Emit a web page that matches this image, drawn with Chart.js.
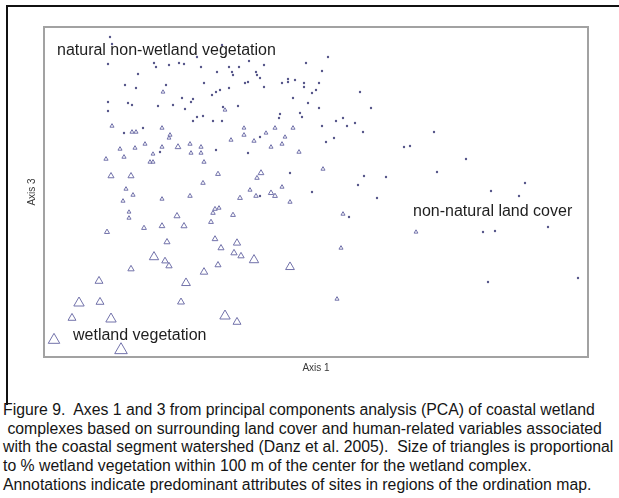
<!DOCTYPE html>
<html>
<head>
<meta charset="utf-8">
<script src="https://cdn.jsdelivr.net/npm/chart.js@4.4.1/dist/chart.umd.min.js"></script>
<style>
  html, body { margin: 0; padding: 0; background: #fff; overflow: hidden; }
  body { width: 619px; height: 498px; position: relative; }
  #frame { position: absolute; left: 6px; top: 5px; width: 620px; height: 398px;
           border-top: 2px solid #111; border-left: 2px solid #111; }
  #plot { position: absolute; left: 0; top: 0; }
  #caption { position: absolute; left: 3px; top: 401px; width: 660px;
             font: 15.8px "Liberation Sans", Arial, sans-serif; line-height: 18.7px;
             color: #151515; white-space: pre; }
</style>
</head>
<body>
<div id="frame"></div>
<canvas id="plot" width="619" height="380"></canvas>
<div id="caption">Figure 9.  Axes 1 and 3 from principal components analysis (PCA) of coastal wetland
 complexes based on surrounding land cover and human-related variables associated
with the coastal segment watershed (Danz et al. 2005).  Size of triangles is proportional
to % wetland vegetation within 100 m of the center for the wetland complex.
Annotations indicate predominant attributes of sites in regions of the ordination map.</div>
<script>
// ===== Ordination scores (arbitrary axis units) =====
// sites with no wetland vegetation nearby (plotted as dots)
const dotAxis1 = [66, 68, 153, 178, 64, 94, 110, 112, 125, 135, 140, 157, 173, 185, 188, 189, 195, 205, 212, 213,
  216, 220, 244, 81, 92, 122, 138, 147, 149, 160, 168, 172, 176, 185, 201, 204, 220, 238, 244, 251,
  249, 64, 64, 84, 88, 114, 129, 141, 179, 194, 149, 153, 159, 169, 178, 236, 235, 256, 284, 262,
  278, 260, 260, 275, 268, 272, 264, 275, 316, 327, 258, 278, 292, 299, 303, 311, 319, 282, 290, 390,
  360, 366, 422, 393, 320, 342, 314, 268, 333, 447, 475, 481, 305, 439, 451, 504, 444, 534, 80, 99,
  116, 172, 216, 204, 246, 216];
const dotAxis3 = [320, 313, 300, 312, 293, 283, 294, 290, 292, 294, 293, 290, 285, 290, 285, 282, 290, 296, 285, 282,
  279, 292, 278, 272, 269, 272, 259, 255, 258, 274, 262, 265, 267, 269, 274, 275, 270, 274, 275, 277,
  259, 255, 246, 254, 252, 251, 252, 248, 250, 251, 236, 240, 241, 236, 236, 243, 239, 244, 300, 294,
  286, 274, 270, 274, 264, 267, 254, 249, 265, 249, 240, 231, 236, 239, 231, 234, 225, 215, 219, 225,
  210, 211, 198, 185, 181, 180, 172, 165, 159, 166, 161, 174, 140, 125, 126, 130, 75, 79, 224, 229,
  205, 207, 220, 204, 184, 161];

// sites with wetland vegetation (triangles, size ~ % wetland vegetation within 100 m)
const triAxis1 = [119, 181, 68, 88, 92, 118, 126, 125, 76, 91, 101, 109, 118, 134, 146, 147, 157, 157, 187, 200,
  200, 210, 222, 231, 227, 238, 241, 249, 255, 62, 80, 106, 109, 160, 67, 87, 174, 159, 217, 213,
  82, 89, 79, 118, 146, 196, 206, 212, 227, 231, 238, 246, 85, 85, 133, 171, 175, 169, 189, 167,
  63, 100, 118, 140, 123, 171, 177, 193, 110, 121, 125, 190, 197, 210, 174, 246, 87, 160, 142, 55,
  35, 56, 137, 28, 67, 181, 193, 10, 77, 279, 299, 372, 297, 293];
const triAxis3 = [265, 247, 231, 225, 225, 229, 222, 219, 208, 209, 213, 203, 210, 210, 213, 204, 210, 204, 217, 222,
  229, 216, 224, 229, 210, 213, 220, 229, 205, 198, 200, 195, 195, 195, 181, 181, 183, 174, 184, 179,
  168, 162, 156, 158, 161, 159, 167, 161, 164, 161, 170, 155, 145, 139, 141, 148, 149, 144, 142, 135,
  125, 129, 131, 131, 115, 118, 109, 114, 100, 96, 91, 104, 101, 97, 92, 90, 88, 85, 74, 76,
  54, 55, 55, 39, 38, 41, 35, 17, 7, 188, 143, 125, 109, 58];
const triWetlandPct = [10, 10, 12, 12, 12, 12, 12, 10, 12, 12, 12, 10, 12, 25, 13, 12, 13, 12, 12, 13,
  10, 13, 10, 12, 12, 12, 10, 12, 13, 13, 13, 12, 12, 13, 28, 28, 18, 15, 25, 15,
  12, 13, 12, 12, 15, 18, 12, 15, 22, 18, 12, 13, 10, 12, 28, 15, 12, 15, 18, 18,
  20, 18, 25, 28, 28, 25, 28, 38, 55, 32, 30, 30, 30, 55, 28, 50, 30, 40, 50, 43,
  63, 43, 35, 43, 63, 63, 43, 72, 81, 12, 12, 10, 12, 12];

// ===== Region annotations =====
const noteText = ['natural non-wetland vegetation', 'non-natural land cover', 'wetland vegetation'];
const noteAxis1 = [13, 369, 29];
const noteAxis3 = [302, 141, 17];

const dotPoints = dotAxis1.map((x, i) => ({ x: x, y: dotAxis3[i] }));
const triPoints = triAxis1.map((x, i) => ({ x: x, y: triAxis3[i] }));

// gray box round the plotting area
const plotBox = {
    id: 'plotBox',
    beforeDatasetsDraw(chart) {
        const { ctx, chartArea: a } = chart;
        ctx.save();
        ctx.strokeStyle = '#a2a2a2';
        ctx.lineWidth = 2;
        ctx.strokeRect(a.left, a.top, a.right - a.left, a.bottom - a.top);
        ctx.restore();
    }
};

// text labels placed in axis units
const regionNotes = {
    id: 'regionNotes',
    afterDatasetsDraw(chart) {
        const { ctx, scales } = chart;
        ctx.save();
        ctx.font = '16px "Liberation Sans", Arial, sans-serif';
        ctx.fillStyle = '#1e1e1e';
        ctx.textBaseline = 'alphabetic';
        noteText.forEach((t, i) => {
            ctx.fillText(t, scales.x.getPixelForValue(noteAxis1[i]), scales.y.getPixelForValue(noteAxis3[i]));
        });
        ctx.restore();
    }
};

const ctx = document.getElementById('plot').getContext('2d');
new Chart(ctx, {
    type: 'scatter',
    data: {
        datasets: [{
            label: 'no wetland vegetation',
            data: dotPoints,
            pointStyle: 'circle',
            pointRadius: 1.2,
            pointBorderWidth: 0,
            backgroundColor: '#55558a',
            borderColor: '#55558a'
        }, {
            label: 'wetland vegetation',
            data: triPoints,
            pointStyle: 'triangle',
            pointRadius: triWetlandPct.map(p => 1.5 + p / 14),
            pointBorderWidth: 1,
            backgroundColor: 'rgba(255,255,255,0)',
            borderColor: '#7272aa'
        }]
    },
    options: {
        responsive: false,
        animation: false,
        clip: false,
        layout: { padding: { left: 0, top: 27, right: 31, bottom: 0 } },
        plugins: {
            legend: { display: false },
            tooltip: { enabled: false }
        },
        scales: {
            x: {
                type: 'linear',
                min: 0,
                max: 544,
                ticks: { display: false },
                grid: { display: false },
                border: { display: false },
                title: {
                    display: true,
                    text: 'Axis 1',
                    color: '#3a3a3a',
                    font: { size: 10, family: 'Liberation Sans' },
                    padding: { top: 0, bottom: 6 }
                },
                afterFit: scale => { scale.height = 23; }
            },
            y: {
                type: 'linear',
                min: 0,
                max: 330,
                ticks: { display: false },
                grid: { display: false },
                border: { display: false },
                title: {
                    display: true,
                    text: 'Axis 3',
                    color: '#3a3a3a',
                    font: { size: 10, family: 'Liberation Sans' },
                    padding: { top: 26, bottom: 0 }
                },
                afterFit: scale => { scale.width = 44; }
            }
        }
    },
    plugins: [plotBox, regionNotes]
});
</script>
</body>
</html>
